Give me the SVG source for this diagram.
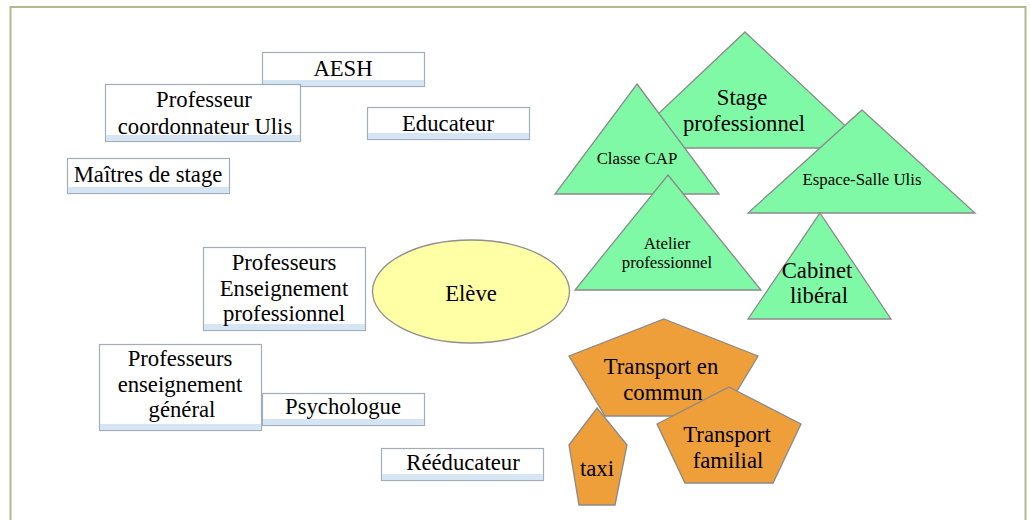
<svg xmlns="http://www.w3.org/2000/svg" width="1030" height="520" viewBox="0 0 1030 520" font-family="'Liberation Serif', 'DejaVu Serif', serif">
  <style>
    .frame { fill: #ffffff; stroke: #b4b98e; stroke-width: 2; }
    .box { fill: #ffffff; stroke: #a3adb8; stroke-width: 1.2; }
    .strip { fill: #d5e5f3; }
    .tri { fill: #80f9a6; stroke: #8a8a8a; stroke-width: 1.3; }
    .pent { fill: #ee9f3a; stroke: #8a8a8a; stroke-width: 1.3; }
    .ell { fill: #ffffa6; stroke: #8f8f8f; stroke-width: 1.3; }
    text { fill: #000000; text-anchor: middle; }
    .t20 { font-size: 22.7px; }
    .t14 { font-size: 16.8px; }
  </style>
  <rect class="frame" x="10.5" y="7" width="1015" height="530"/>
  <g id="connectors"/>

  <g id="aesh">
    <rect class="box" x="262.5" y="52.5" width="162" height="34"/>
    <rect class="strip" x="263" y="80" width="161" height="6"/>
    <text class="t20" x="343" y="76">AESH</text>
  </g>
  <g id="prof-coord-ulis">
    <rect class="box" x="105.5" y="84.5" width="195" height="57"/>
    <rect class="strip" x="106" y="135" width="194" height="6"/>
    <text class="t20" x="204" y="107">Professeur</text>
    <text class="t20" x="205" y="134">coordonnateur Ulis</text>
  </g>
  <g id="educateur">
    <rect class="box" x="367.5" y="107.5" width="162" height="32"/>
    <rect class="strip" x="368" y="133" width="161" height="6"/>
    <text class="t20" x="448" y="131">Educateur</text>
  </g>
  <g id="maitres-de-stage">
    <rect class="box" x="67.5" y="158.5" width="162" height="35"/>
    <rect class="strip" x="68" y="187" width="161" height="6"/>
    <text class="t20" x="148" y="182">Maîtres de stage</text>
  </g>
  <g id="prof-ens-pro">
    <rect class="box" x="203.5" y="247.5" width="162" height="83"/>
    <rect class="strip" x="204" y="324" width="161" height="6"/>
    <text class="t20" x="284" y="270">Professeurs</text>
    <text class="t20" x="284" y="296">Enseignement</text>
    <text class="t20" x="284" y="321">professionnel</text>
  </g>
  <g id="eleve">
    <ellipse class="ell" cx="471" cy="291.5" rx="98.5" ry="51.5"/>
    <text class="t20" x="471" y="301">Elève</text>
  </g>
  <g id="prof-ens-gen">
    <rect class="box" x="99.5" y="344.5" width="162" height="86"/>
    <rect class="strip" x="100" y="424" width="161" height="6"/>
    <text class="t20" x="180" y="366">Professeurs</text>
    <text class="t20" x="180" y="392">enseignement</text>
    <text class="t20" x="182" y="417">général</text>
  </g>
  <g id="psychologue">
    <rect class="box" x="262.5" y="393.5" width="162" height="32"/>
    <rect class="strip" x="263" y="419" width="161" height="6"/>
    <text class="t20" x="343" y="414">Psychologue</text>
  </g>
  <g id="reeducateur">
    <rect class="box" x="381.5" y="448.5" width="162" height="32"/>
    <rect class="strip" x="382" y="474" width="161" height="6"/>
    <text class="t20" x="463" y="470">Rééducateur</text>
  </g>

  <g id="stage-professionnel">
    <polygon class="tri" points="745,32 869,148 622,148"/>
    <text class="t20" x="742" y="105">Stage</text>
    <text class="t20" x="744" y="131">professionnel</text>
  </g>
  <g id="classe-cap">
    <polygon class="tri" points="637,84 719,194 555,194"/>
    <text class="t14" x="637" y="164">Classe CAP</text>
  </g>
  <g id="espace-salle-ulis">
    <polygon class="tri" points="862,110 975,213 748,213"/>
    <text class="t14" x="862" y="185">Espace-Salle Ulis</text>
  </g>
  <g id="atelier-professionnel">
    <polygon class="tri" points="668,175 761,290 575,290"/>
    <text class="t14" x="667" y="249">Atelier</text>
    <text class="t14" x="667" y="268">professionnel</text>
  </g>
  <g id="cabinet-liberal">
    <polygon class="tri" points="820,213 891,319 748,319"/>
    <text class="t20" x="817" y="278">Cabinet</text>
    <text class="t20" x="819" y="303">libéral</text>
  </g>

  <g id="transport-en-commun">
    <polygon class="pent" points="664,319 758,356 722,416 605,416 569,356"/>
    <text class="t20" x="661" y="374">Transport en</text>
    <text class="t20" x="663" y="400">commun</text>
  </g>
  <g id="transport-familial">
    <polygon class="pent" points="729,387 801,424 773,483 685,483 657,424"/>
    <text class="t20" x="727" y="442">Transport</text>
    <text class="t20" x="728" y="468">familial</text>
  </g>
  <g id="taxi">
    <polygon class="pent" points="597,408 627,445 615,505 579,505 569,445"/>
    <text class="t20" x="597" y="476">taxi</text>
  </g>
</svg>
